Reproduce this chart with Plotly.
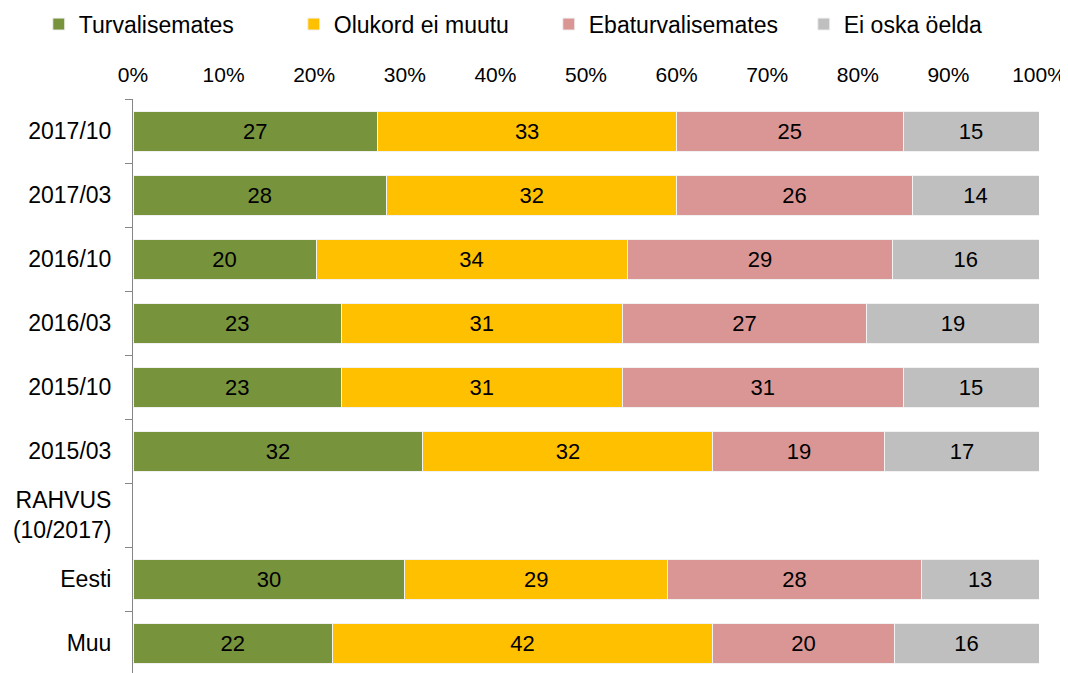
import plotly.graph_objects as go

# Categories top to bottom; the RAHVUS row is a heading with no bars
categories = ["2017/10", "2017/03", "2016/10", "2016/03", "2015/10", "2015/03",
              "RAHVUS<br>(10/2017)", "Eesti", "Muu"]

turvalisemates = [27, 28, 20, 23, 23, 32, None, 30, 22]
olukord = [33, 32, 34, 31, 31, 32, None, 29, 42]
ebaturvalisemates = [25, 26, 29, 27, 31, 19, None, 28, 20]
ei_oska = [15, 14, 16, 19, 15, 17, None, 13, 16]

x_ticks = [0, 10, 20, 30, 40, 50, 60, 70, 80, 90, 100]

series = [
    ("Turvalisemates", turvalisemates, "#77933C"),
    ("Olukord ei muutu", olukord, "#FFC000"),
    ("Ebaturvalisemates", ebaturvalisemates, "#D99694"),
    ("Ei oska öelda", ei_oska, "#BFBFBF"),
]

fig = go.Figure()
for name, vals, color in series:
    fig.add_trace(go.Bar(
        y=categories,
        x=vals,
        name=name,
        orientation="h",
        marker=dict(color=color, line=dict(color="#F2F2F2", width=1)),
        text=["" if v is None else str(v) for v in vals],
        texttemplate="%{text}",
        textposition="inside",
        insidetextanchor="middle",
        textfont=dict(color="#000000", size=22),
        constraintext="none",
        hoverinfo="skip",
    ))

# ── Layout ───────────────────────────────────────────────────────────────
# the page body adds an 8px offset, so margins are shifted to compensate
fig.update_layout(
    barmode="stack",
    barnorm="percent",       # 100% stacked, like the original
    bargap=0.375,
    width=1068,
    height=673,
    margin=dict(l=125, r=37, t=91, b=6, autoexpand=False),
    plot_bgcolor="#FFFFFF",
    paper_bgcolor="#FFFFFF",
    font=dict(family="Liberation Sans, Arial", size=23, color="#000000"),
    showlegend=True,
    legend=dict(
        orientation="h",
        x=-0.104, xanchor="left",
        y=1.13, yanchor="middle",
        font=dict(size=23),
        traceorder="normal",
        itemwidth=30,
        entrywidth=210,
        entrywidthmode="pixels",
    ),
    xaxis=dict(
        side="top",
        range=[0, 100],
        tickvals=x_ticks,
        ticktext=[f"{t}%" for t in x_ticks],
        showgrid=False,
        zeroline=False,
        showline=False,
        ticks="",
        tickfont=dict(size=21),
        ticklabelstandoff=12,
        automargin=False,
    ),
    yaxis=dict(
        categoryorder="array",
        categoryarray=categories,
        autorange="reversed",
        showgrid=False,
        showline=True,
        linecolor="#868686",
        linewidth=1,
        ticks="outside",
        tickson="boundaries",
        ticklen=7,
        tickcolor="#868686",
        tickfont=dict(size=23),
        ticklabelstandoff=16,
        automargin=False,
    ),
)

fig.write_html("out.html")
